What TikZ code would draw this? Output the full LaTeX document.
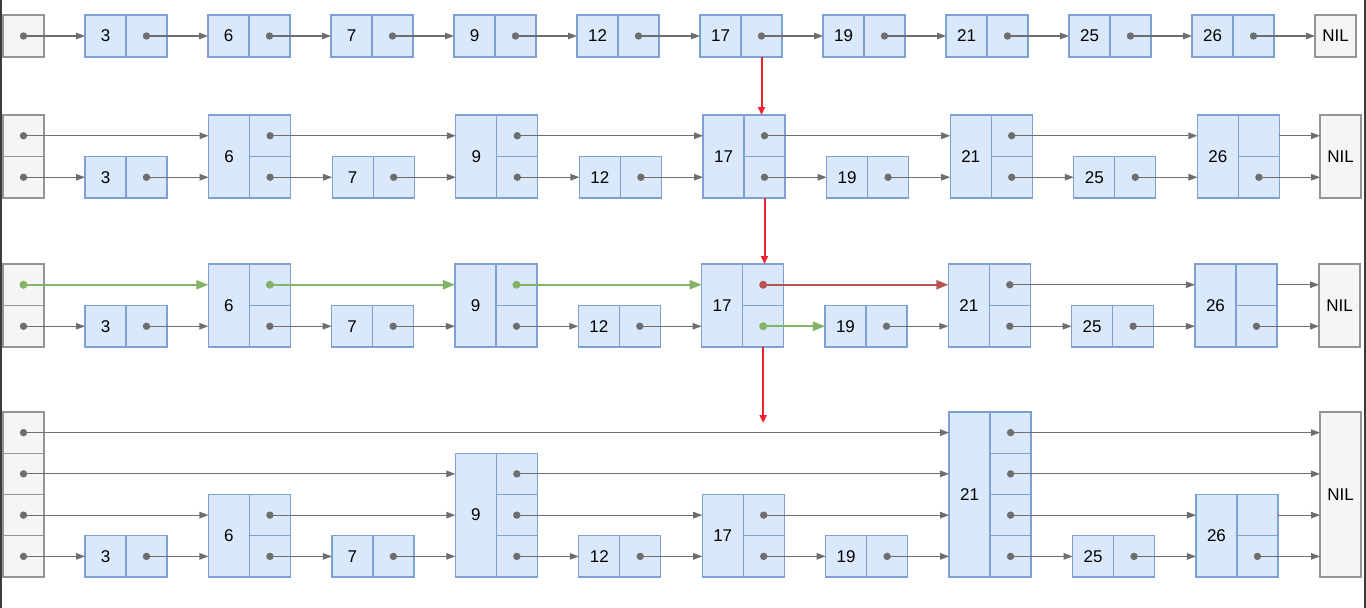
\documentclass[tikz,border=0pt]{standalone}
\usepackage{fontspec}
\setmainfont{Liberation Sans}
\usetikzlibrary{arrows.meta}
\definecolor{bfill}{HTML}{DAE8FC}
\definecolor{bdraw}{HTML}{7EA0D4}
\definecolor{gfill}{HTML}{F5F5F5}
\definecolor{gdraw}{HTML}{949494}
\definecolor{lnc}{HTML}{6E6E6E}
\definecolor{grn}{HTML}{82B366}
\definecolor{rdd}{HTML}{B85450}
\definecolor{rdv}{HTML}{F0212E}
\definecolor{frm}{HTML}{3A3A3A}
\tikzset{
  cellbase/.style={draw, line width=1.3pt, inner sep=0pt, outer sep=0pt, minimum width=41pt, font=\fontsize{17}{20}\selectfont},
  keycell/.style={cellbase, draw=bdraw, fill=bfill},
  ptrcell/.style={cellbase, draw=bdraw, fill=bfill},
  headcell/.style={cellbase, draw=gdraw, fill=gfill},
  nilcell/.style={cellbase, draw=gdraw, fill=gfill},
  arr/.style={draw=lnc, line width=1.2pt, -{Triangle[length=9pt,width=6.5pt]}},
  garr/.style={draw=grn, line width=2.2pt, -{Triangle[length=12pt,width=9pt]}},
  rarr/.style={draw=rdd, line width=2.2pt, -{Triangle[length=12pt,width=9pt]}},
  varr/.style={draw=rdv, line width=2pt, -{Triangle[length=8pt,width=7pt]}},
  dotc/.style={fill=lnc},
}
% #1 id, #2 bottom y, #3 cell height, #4 spacing, #5 NIL x, #6 head levels, #7 value/level list
\newcommand{\SLrow}[7]{%
  \foreach \l in {1,...,#6}{%
    \node[headcell, minimum height=#3pt, anchor=south west] (p#1-h-\l) at (3,{#2-(\l-1)*#3}) {};
  }
  \node[nilcell, minimum height={#6*#3*1pt}, anchor=south west] (nil#1) at (#5,#2) {NIL};
  \foreach \v/\L [count=\i from 0] in {#7}{%
    \pgfmathsetmacro\X{85+\i*#4}
    \node[keycell, minimum height={\L*#3*1pt}, anchor=south west] (k#1-\i) at (\X,#2) {\v};
    \foreach \l in {1,...,\L}{%
      \node[ptrcell, minimum height=#3pt, anchor=south west] (p#1-\i-\l) at (\X+41,{#2-(\l-1)*#3}) {};
    }
  }
}
% #1 row, #2 level, #3 pairs a/b
\newcommand{\SLchain}[3]{%
  \foreach \a/\b in {#3}{%
    \draw[arr] (p#1-\a-#2.center) -- (k#1-\b.west |- p#1-\a-#2.center);
  }
}
\newcommand{\SLnil}[3]{% row, level, node index
  \draw[arr] (p#1-#3-#2.center) -- (nil#1.west |- p#1-#3-#2.center);
}
\newcommand{\SLnilE}[3]{% from east edge (no dot)
  \draw[arr] (p#1-#3-#2.east) -- (nil#1.west |- p#1-#3-#2.east);
}
\newcommand{\SLdot}[2]{% row, list a/l
  \foreach \a/\l in {#2}{%
    \fill[dotc] (p#1-\a-\l.center) circle (3.7pt);
  }
}
\begin{document}
\begin{tikzpicture}[x=1pt,y=-1pt]
\useasboundingbox (0,0) rectangle (1366,608);
\fill[white] (0,0) rectangle (1366,608);
\draw[frm, line width=2pt] (1,0) -- (1,608);
\draw[frm, line width=2pt] (1364.5,0) -- (1364.5,608);

% rows
\SLrow{1}{57}{42}{123}{1315}{1}{3/1,6/1,7/1,9/1,12/1,17/1,19/1,21/1,25/1,26/1}
\SLrow{2}{198}{41.5}{123.6}{1320}{2}{3/1,6/2,7/1,9/2,12/1,17/2,19/1,21/2,25/1,26/2}
\SLrow{3}{347}{41.5}{123.33}{1319}{2}{3/1,6/2,7/1,9/2,12/1,17/2,19/1,21/2,25/1,26/2}
\SLrow{4}{577}{41.25}{123.44}{1320}{4}{3/1,6/2,7/1,9/3,12/1,17/2,19/1,21/4,25/1,26/2}

% row 1
\SLchain{1}{1}{h/0,0/1,1/2,2/3,3/4,4/5,5/6,6/7,7/8,8/9}
\SLnil{1}{1}{9}
\SLdot{1}{h/1,0/1,1/1,2/1,3/1,4/1,5/1,6/1,7/1,8/1,9/1}

% row 2
\SLchain{2}{1}{h/0,0/1,1/2,2/3,3/4,4/5,5/6,6/7,7/8,8/9}
\SLnil{2}{1}{9}
\SLchain{2}{2}{h/1,1/3,3/5,5/7,7/9}
\SLnilE{2}{2}{9}
\SLdot{2}{h/1,h/2,0/1,1/1,1/2,2/1,3/1,3/2,4/1,5/1,5/2,6/1,7/1,7/2,8/1,9/1}

% row 3
\SLchain{3}{1}{h/0,0/1,1/2,2/3,3/4,4/5,6/7,7/8,8/9}
\SLnil{3}{1}{9}
\SLchain{3}{2}{7/9}
\SLnilE{3}{2}{9}
\SLdot{3}{h/1,0/1,1/1,2/1,3/1,4/1,6/1,7/1,7/2,8/1,9/1}
\draw[garr] (p3-h-2.center) -- (k3-1.west |- p3-h-2.center);
\draw[garr] (p3-1-2.center) -- (k3-3.west |- p3-1-2.center);
\draw[garr] (p3-3-2.center) -- (k3-5.west |- p3-3-2.center);
\draw[rarr] (p3-5-2.center) -- (k3-7.west |- p3-5-2.center);
\draw[garr] (p3-5-1.center) -- (k3-6.west |- p3-5-1.center);
\foreach \a/\l in {h/2,1/2,3/2,5/1}{\fill[grn] (p3-\a-\l.center) circle (4pt);}
\fill[rdd] (p3-5-2.center) circle (4pt);

% row 4
\SLchain{4}{1}{h/0,0/1,1/2,2/3,3/4,4/5,5/6,6/7,7/8,8/9}
\SLnil{4}{1}{9}
\SLchain{4}{2}{h/1,1/3,3/5,5/7,7/9}
\SLnilE{4}{2}{9}
\SLchain{4}{3}{h/3,3/7}
\SLnil{4}{3}{7}
\SLchain{4}{4}{h/7}
\SLnil{4}{4}{7}
\SLdot{4}{h/1,h/2,h/3,h/4,0/1,1/1,1/2,2/1,3/1,3/2,3/3,4/1,5/1,5/2,6/1,7/1,7/2,7/3,7/4,8/1,9/1}

% red search arrows
\draw[varr] (p1-5-1.south) -- (p1-5-1.south |- p2-5-2.north);
\draw[varr] (p2-5-1.south) -- (p2-5-1.south |- p3-5-2.north);
\path (p3-5-1.south) ++(0,76) coordinate (vend);
\draw[varr] (p3-5-1.south) -- (vend);
\end{tikzpicture}
\end{document}
